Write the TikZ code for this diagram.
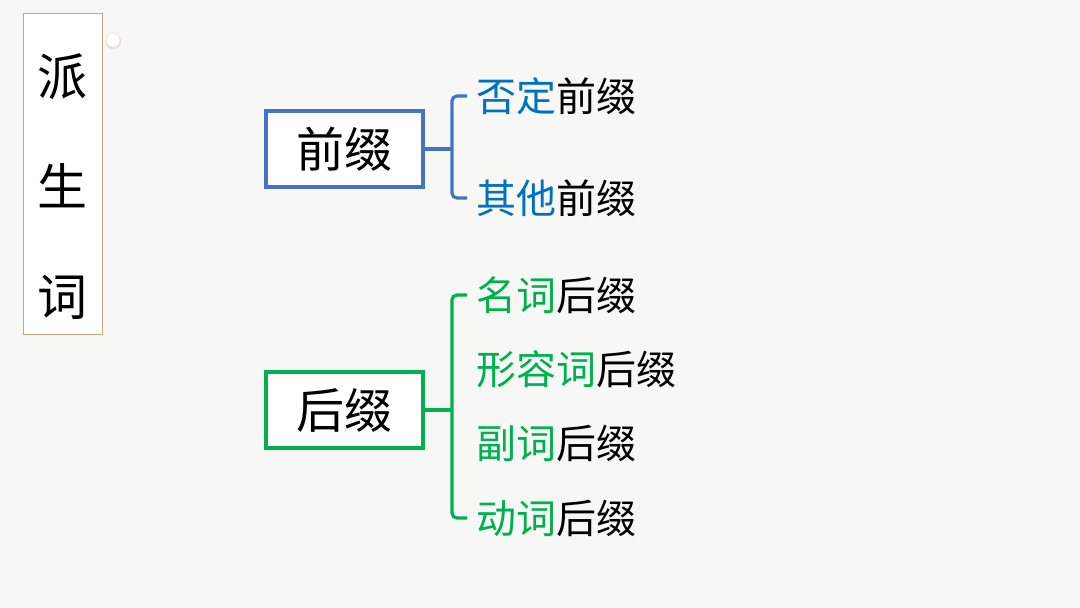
\documentclass[tikz,border=0pt]{standalone}
\usepackage{fontspec}
\setmainfont{Noto Sans CJK SC}
\usetikzlibrary{positioning}
\definecolor{bg}{HTML}{F7F7F5}
\definecolor{tan}{HTML}{C9A67C}
\definecolor{pblue}{HTML}{4472C4}
\definecolor{tblue}{HTML}{0070C0}
\definecolor{pgreen}{HTML}{00B050}
\tikzstyle{title} = [draw=tan, fill=white, line width=1pt, minimum width=79pt, minimum height=321pt, align=center, font=\fontsize{50}{110}\selectfont]
\tikzstyle{group} = [draw, line width=3.2pt, fill=white, minimum width=157pt, minimum height=76pt, font=\fontsize{48}{48}\selectfont]
\tikzstyle{item} = [anchor=west, inner sep=0pt, font=\fontsize{40}{40}\selectfont]
\tikzstyle{brace} = [line width=3.2pt, rounded corners=5pt]

\begin{document}
\begin{tikzpicture}[x=1pt, y=-1pt]
        \fill[bg] (0,0) rectangle (1080,608);
        \node[title] (word) at (62.5,173.5) {};
        \node[font=\fontsize{50}{110}\selectfont, align=center] (wordtext) at (62.5,187) {派\\生\\词};
        \draw[black!12, line width=1.5pt] (113.5,41.5) circle (7);
        \draw[tan!45, fill=white] (113,40) circle (7);
        % prefix group
        \node[group, draw=pblue] (pre) at (344.5,149) {前缀};
        \node[item] (neg) at (476,96) {\textcolor{tblue}{否定}前缀};
        \node[item] (oth) at (476,198) {\textcolor{tblue}{其他}前缀};
        \coordinate (pb) at (452,149);
        \draw[brace, pblue] (pre.east) -- (pb);
        \draw[brace, pblue] ([xshift=-9pt]neg.west) -| (pb) |- ([xshift=-9pt]oth.west);
        % suffix group
        \node[group, draw=pgreen] (suf) at (344.5,410) {后缀};
        \node[item] (noun) at (476,295) {\textcolor{pgreen}{名词}后缀};
        \node[item] (adj) at (476,369) {\textcolor{pgreen}{形容词}后缀};
        \node[item] (adv) at (476,443) {\textcolor{pgreen}{副词}后缀};
        \node[item] (verb) at (476,518) {\textcolor{pgreen}{动词}后缀};
        \coordinate (sb) at (452,410);
        \draw[brace, pgreen] (suf.east) -- (sb);
        \draw[brace, pgreen] ([xshift=-9pt]noun.west) -| (sb) |- ([xshift=-9pt]verb.west);
    \end{tikzpicture}
\end{document}
